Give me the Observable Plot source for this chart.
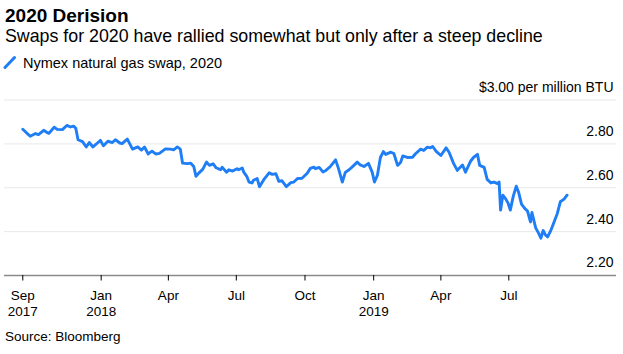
<!DOCTYPE html>
<html>
<head>
<meta charset="utf-8">
<script src="https://cdn.jsdelivr.net/npm/d3@7"></script>
<script src="https://cdn.jsdelivr.net/npm/@observablehq/plot@0.6"></script>
<style>
  body { margin: 0; background: #fff; font-family: "Liberation Sans", Arial, sans-serif; color: #000; }
  #wrap { position: relative; width: 623px; height: 354px; overflow: hidden; }
  .t { position: absolute; left: 5px; white-space: nowrap; line-height: 1; }
  #title { top: 5.5px; font-size: 19px; font-weight: bold; }
  #sub { top: 27.5px; font-size: 17.8px; }
  #legend { top: 55.5px; left: 23px; font-size: 14.5px; }
  #swatch { position: absolute; left: 3px; top: 55px; }
  #chart { position: absolute; left: 0; top: 70px; }
  #source { top: 330px; font-size: 13.5px; }
</style>
</head>
<body>
<div id="wrap">
  <div class="t" id="title">2020 Derision</div>
  <div class="t" id="sub">Swaps for 2020 have rallied somewhat but only after a steep decline</div>
  <svg id="swatch" width="14" height="14"><line x1="2" y1="12.5" x2="11.5" y2="2.5" stroke="#1f7ef5" stroke-width="3" stroke-linecap="round"/></svg>
  <div class="t" id="legend">Nymex natural gas swap, 2020</div>
  <div id="chart"></div>
  <div class="t" id="source">Source: Bloomberg</div>
</div>
<script>
const dates = [
  "2017-09-18","2017-09-24","2017-09-28","2017-10-05","2017-10-09","2017-10-16","2017-10-21","2017-10-23","2017-10-30","2017-11-03",
  "2017-11-10","2017-11-16","2017-11-21","2017-11-25","2017-11-28","2017-12-01","2017-12-07","2017-12-12","2017-12-16","2017-12-21",
  "2017-12-27","2017-12-31","2018-01-04","2018-01-10","2018-01-16","2018-01-20","2018-01-26","2018-01-29","2018-02-05","2018-02-12",
  "2018-02-19","2018-02-24","2018-02-28","2018-03-05","2018-03-10","2018-03-15","2018-03-20","2018-03-28","2018-04-04","2018-04-08",
  "2018-04-13","2018-04-17","2018-04-20","2018-04-26","2018-05-01","2018-05-05","2018-05-08","2018-05-12","2018-05-17","2018-05-22",
  "2018-05-26","2018-05-31","2018-06-04","2018-06-10","2018-06-12","2018-06-18","2018-06-21","2018-06-26","2018-07-02","2018-07-04",
  "2018-07-09","2018-07-11","2018-07-15","2018-07-18","2018-07-22","2018-07-24","2018-07-29","2018-08-01","2018-08-07","2018-08-14",
  "2018-08-18","2018-08-23","2018-08-27","2018-08-31","2018-09-06","2018-09-12","2018-09-16","2018-09-21","2018-09-27","2018-10-04",
  "2018-10-08","2018-10-13","2018-10-15","2018-10-20","2018-10-25","2018-10-29","2018-11-04","2018-11-11","2018-11-15","2018-11-20",
  "2018-11-24","2018-11-29","2018-12-03","2018-12-10","2018-12-14","2018-12-19","2018-12-25","2018-12-30","2019-01-02","2019-01-06",
  "2019-01-10","2019-01-14","2019-01-17","2019-01-24","2019-01-28","2019-02-02","2019-02-06","2019-02-09","2019-02-15","2019-02-22",
  "2019-02-26","2019-03-05","2019-03-09","2019-03-14","2019-03-18","2019-03-21","2019-03-26","2019-04-01","2019-04-08","2019-04-12",
  "2019-04-18","2019-04-23","2019-04-25","2019-04-30","2019-05-04","2019-05-11","2019-05-15","2019-05-20","2019-05-23","2019-05-29",
  "2019-06-02","2019-06-07","2019-06-11","2019-06-16","2019-06-18","2019-06-20","2019-06-23","2019-06-27","2019-06-30","2019-07-03",
  "2019-07-07","2019-07-11","2019-07-14","2019-07-18","2019-07-22","2019-07-26","2019-07-30","2019-08-01","2019-08-06","2019-08-10",
  "2019-08-13","2019-08-16","2019-08-19","2019-08-22","2019-08-26","2019-08-30","2019-09-04","2019-09-08","2019-09-13","2019-09-17"
];
const swap2020 = [
  2.867,2.847,2.835,2.847,2.842,2.862,2.851,2.848,2.876,2.866,
  2.865,2.884,2.877,2.881,2.871,2.819,2.810,2.786,2.806,2.786,
  2.804,2.816,2.791,2.812,2.806,2.819,2.804,2.801,2.822,2.776,
  2.786,2.772,2.786,2.754,2.767,2.754,2.757,2.777,2.776,2.773,
  2.786,2.776,2.712,2.710,2.712,2.697,2.652,2.668,2.684,2.717,
  2.702,2.709,2.691,2.682,2.693,2.671,2.682,2.676,2.687,2.682,
  2.690,2.671,2.652,2.626,2.622,2.634,2.642,2.605,2.638,2.668,
  2.661,2.664,2.629,2.632,2.605,2.623,2.626,2.642,2.643,2.666,
  2.688,2.694,2.687,2.693,2.672,2.679,2.697,2.727,2.686,2.626,
  2.670,2.682,2.694,2.717,2.704,2.697,2.711,2.671,2.626,2.657,
  2.738,2.765,2.752,2.762,2.756,2.702,2.715,2.745,2.738,2.739,
  2.755,2.776,2.770,2.785,2.782,2.788,2.765,2.747,2.782,2.762,
  2.711,2.679,2.687,2.704,2.671,2.722,2.739,2.752,2.702,2.693,
  2.638,2.622,2.626,2.619,2.626,2.498,2.566,2.548,2.530,2.498,
  2.562,2.607,2.581,2.525,2.507,2.494,2.444,2.487,2.417,2.392,
  2.370,2.405,2.385,2.376,2.403,2.438,2.483,2.536,2.548,2.566
];
const yTicks = [2.2, 2.4, 2.6, 2.8, 3.0];
const yTickLabels = ["2.20", "2.40", "2.60", "2.80", "$3.00 per million BTU"];
const gridValues = [2.4, 2.6, 2.8, 3.0];
const xTicks = ["2017-09-18","2018-01-01","2018-04-01","2018-07-01","2018-10-01","2019-01-01","2019-04-01","2019-07-01"];
const xTickLabels = ["Sep\n2017","Jan\n2018","Apr","Jul","Oct","Jan\n2019","Apr","Jul"];
const xDomain = ["2017-08-24T12:00:00Z", "2019-11-22T06:00:00Z"];

const data = dates.map((d, i) => ({date: new Date(d), value: swap2020[i]}));
const xTickDates = xTicks.map(d => new Date(d));
const xLabelMap = new Map(xTickDates.map((d, i) => [+d, xTickLabels[i]]));
const yLabelMap = new Map(yTicks.map((v, i) => [v, yTickLabels[i]]));

const chart = Plot.plot({
  width: 623,
  height: 256,
  marginLeft: 4,
  marginRight: 7,
  marginTop: 29.5,
  marginBottom: 51,
  style: {fontFamily: '"Liberation Sans", Arial, sans-serif', fontSize: "13.5px", color: "#000", background: "transparent", overflow: "visible"},
  x: {type: "utc", domain: xDomain.map(d => new Date(d)), label: null},
  y: {domain: [2.2, 3.0], axis: null},
  marks: [
    Plot.ruleY(gridValues, {stroke: "#e8e8e8", strokeWidth: 1}),
    Plot.text(yTicks, {y: d => d, text: d => yLabelMap.get(d), frameAnchor: "right", textAnchor: "end", dx: -3, dy: -12.5, fontSize: 14, fill: "#000"}),
    Plot.ruleY([2.2], {stroke: "#8a8a8a", strokeWidth: 1.6}),
    Plot.axisX({ticks: xTickDates, tickFormat: d => xLabelMap.get(+d), tickSize: 5.5, tickPadding: 7, lineHeight: 1.22, label: null, stroke: "#000"}),
    Plot.line(data, {x: "date", y: "value", stroke: "#1f7ef5", strokeWidth: 2.9, strokeLinejoin: "round"})
  ]
});
document.getElementById("chart").appendChild(chart);
</script>
</body>
</html>
